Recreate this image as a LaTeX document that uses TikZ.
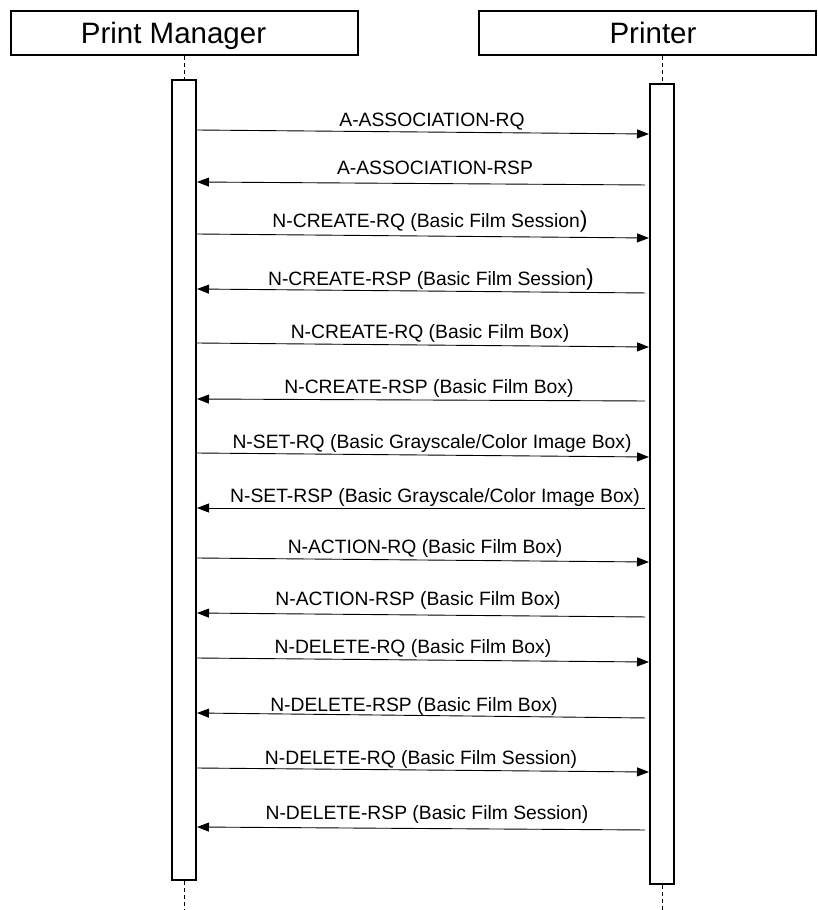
\documentclass[tikz,border=0pt]{standalone}
\usepackage{fontspec}
\setmainfont{Liberation Sans}
\usetikzlibrary{arrows.meta}
\begin{document}
\begin{tikzpicture}[x=1pt,y=-1pt,
  head/.style={draw,line width=2pt,minimum height=44pt,inner sep=0pt},
  headtxt/.style={inner sep=0pt,anchor=base,font=\fontsize{29.5}{29.5}\selectfont},
  actbar/.style={draw,line width=2pt,inner sep=0pt,fill=white,minimum width=24pt,minimum height=800pt},
  life/.style={dash pattern=on 4pt off 3pt,line width=0.8pt},
  msg/.style={line width=0.9pt,-{Triangle[length=12pt,width=9pt]}},
  back/.style={msg,shorten <=4pt},
  lbl/.style={font=\fontsize{19.3}{19.3}\selectfont,inner sep=0pt,anchor=base}]
\useasboundingbox (0,0) rectangle (818,910);
% heads
\node[head,minimum width=347pt] (pm) at (184.5,33) {};
\node[headtxt] (pmt) at (173.5,43) {Print Manager};
\node[head,minimum width=337pt] (pr) at (647.5,33) {};
\node[headtxt] (prt) at (653,43) {Printer};
% lifelines
\coordinate (lend) at (184,910);
\coordinate (rend) at (660,910);
\node[actbar] (lb) at (184,480) {};
\node[actbar] (rb) at (662,484) {};
\draw[life] (lb.north |- pm.south) -- (lb.north);
\draw[life] (lb.south) -- (lend);
\draw[life] (rb.north |- pr.south) -- (rb.north);
\draw[life] (rb.south) -- (rb.south |- rend);
% messages
\draw[msg] (lb.east |- 0,130) -- (rb.west |- 0,134);
\node[lbl] (t1) at (432,126) {A-ASSOCIATION-RQ};
\draw[back] (rb.west |- 0,185) -- (lb.east |- 0,182);
\node[lbl] (t2) at (435,174) {A-ASSOCIATION-RSP};
\draw[msg] (lb.east |- 0,234) -- (rb.west |- 0,238);
\node[lbl] (t3) at (430,227) {N-CREATE-RQ (Basic Film Session{\fontsize{23}{23}\selectfont)}};
\draw[back] (rb.west |- 0,293) -- (lb.east |- 0,289);
\node[lbl] (t4) at (431,285) {N-CREATE-RSP (Basic Film Session{\fontsize{23}{23}\selectfont)}};
\draw[msg] (lb.east |- 0,343) -- (rb.west |- 0,347);
\node[lbl] (t5) at (430,338) {N-CREATE-RQ (Basic Film Box)};
\draw[back] (rb.west |- 0,401) -- (lb.east |- 0,399);
\node[lbl] (t6) at (429,393) {N-CREATE-RSP (Basic Film Box)};
\draw[msg] (lb.east |- 0,453) -- (rb.west |- 0,457);
\node[lbl] (t7) at (432,448) {N-SET-RQ (Basic Grayscale/Color Image Box)};
\draw[back] (rb.west |- 0,508) -- (lb.east |- 0,508);
\node[lbl] (t8) at (435,502) {N-SET-RSP (Basic Grayscale/Color Image Box)};
\draw[msg] (lb.east |- 0,558) -- (rb.west |- 0,562);
\node[lbl] (t9) at (425,553) {N-ACTION-RQ (Basic Film Box)};
\draw[back] (rb.west |- 0,617) -- (lb.east |- 0,613);
\node[lbl] (t10) at (418,605) {N-ACTION-RSP (Basic Film Box)};
\draw[msg] (lb.east |- 0,658) -- (rb.west |- 0,662);
\node[lbl] (t11) at (413,653) {N-DELETE-RQ (Basic Film Box)};
\draw[back] (rb.west |- 0,718) -- (lb.east |- 0,713);
\node[lbl] (t12) at (414,711) {N-DELETE-RSP (Basic Film Box)};
\draw[msg] (lb.east |- 0,768) -- (rb.west |- 0,772);
\node[lbl] (t13) at (421,764) {N-DELETE-RQ (Basic Film Session)};
\draw[back] (rb.west |- 0,830) -- (lb.east |- 0,827);
\node[lbl] (t14) at (427,819) {N-DELETE-RSP (Basic Film Session)};
\end{tikzpicture}
\end{document}
